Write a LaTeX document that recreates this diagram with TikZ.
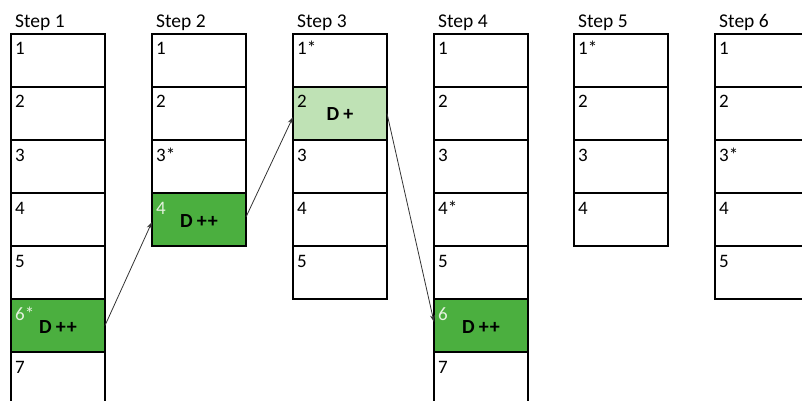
\documentclass[tikz,border=0pt]{standalone}
\usepackage{fontspec}
\setmainfont{Carlito}
\usetikzlibrary{arrows.meta}
\definecolor{dgreen}{HTML}{4BAF3F}
\definecolor{lgreen}{HTML}{BFE2B5}
\definecolor{pale}{HTML}{E4F2DE}
\begin{document}
\begin{tikzpicture}[x=1pt,y=-1pt,
  cell/.style={draw=black,line width=1.6pt,minimum width=94pt,minimum height=53pt,inner sep=0pt,outer sep=0pt,anchor=north west},
  num/.style={anchor=base west,inner sep=0pt,font=\fontsize{19}{19}\selectfont},
  ttl/.style={anchor=base west,inner sep=0pt,font=\fontsize{19.5}{19.5}\selectfont},
  dlab/.style={anchor=base,inner sep=0pt,font=\fontsize{20}{20}\selectfont\bfseries},
  conn/.style={draw=black!80,line width=0.8pt,-{Stealth[length=7pt,width=5pt]}},
  f1-6/.style={fill=dgreen},
  f2-4/.style={fill=dgreen},
  f3-2/.style={fill=lgreen},
  f4-6/.style={fill=dgreen},
  n1-6/.style={text=pale},
  n2-4/.style={text=pale},
  n4-6/.style={text=pale}]
\path[use as bounding box] (0,0) rectangle (802,401);
\clip (0,0) rectangle (802,401);
\foreach \s/\L/\n/\st in {1/11/7/6,2/152/4/3,3/293/5/1,4/434/7/4,5/574/4/1,6/715/5/3} {
  \node[ttl] (t\s) at (\L+4,28) {Step \s};
  \foreach \k in {1,...,\n} {
    \node[cell,f\s-\k/.try] (c\s-\k) at (\L,{34+53*(\k-1)}) {};
    \node[num,n\s-\k/.try] (n\s-\k) at (\L+4,{55+53*(\k-1)}) {\k\ifnum\k=\st*\fi};
  }
}
\node[dlab] (d1) at ([yshift=-7.5pt]c1-6.center) {D\kern4pt+\kern1pt+};
\node[dlab] (d2) at ([yshift=-7.5pt]c2-4.center) {D\kern4pt+\kern1pt+};
\node[dlab] (d3) at ([yshift=-7.5pt]c3-2.center) {D\kern4pt+};
\node[dlab] (d4) at ([yshift=-7.5pt]c4-6.center) {D\kern4pt+\kern1pt+};
\draw[conn] (c1-6.east) -- ([yshift=-2.5pt]c2-4.west);
\draw[conn] ([yshift=2.5pt]c2-4.east) -- ([yshift=-3.5pt]c3-2.west);
\draw[conn] (c3-2.east) -- ([yshift=3.5pt]c4-6.west);
\end{tikzpicture}
\end{document}
